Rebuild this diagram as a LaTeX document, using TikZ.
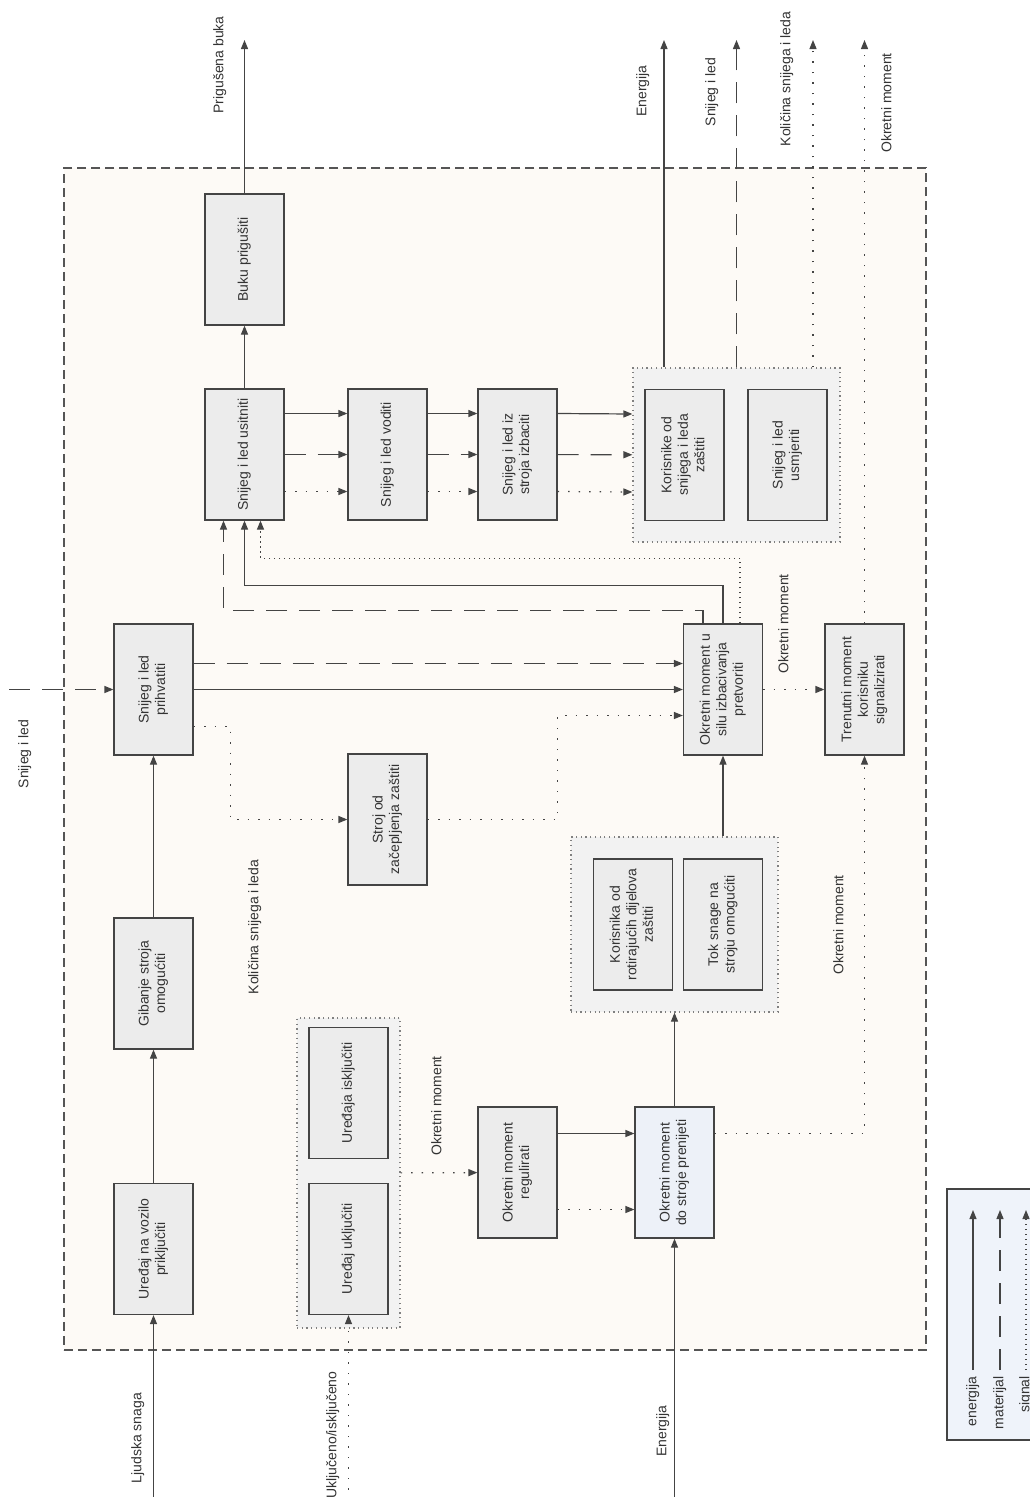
\documentclass[tikz,border=0pt]{standalone}
\usepackage{fontspec}
\setmainfont{Liberation Sans}
\usepackage{graphicx}
\usetikzlibrary{arrows.meta}
\definecolor{edge}{HTML}{444444}
\definecolor{txt}{HTML}{333333}
\definecolor{boxfill}{HTML}{ECECEC}
\definecolor{grpfill}{HTML}{F2F2F2}
\definecolor{cream}{HTML}{FDFAF6}
\definecolor{bluefill}{HTML}{EDF1F8}
\definecolor{legfill}{HTML}{EFF3FA}
\definecolor{framec}{HTML}{555555}
\newcommand{\vtxt}[1]{\rotatebox{90}{\begin{tabular}{@{}c@{}}#1\end{tabular}}}

\begin{document}
\begin{tikzpicture}[x=1pt, y=-1pt, >={Triangle[length=9pt,width=7pt]}, font=\fontsize{14}{16.5}\selectfont, text=txt]
  \tikzstyle{fn}=[rectangle, draw=edge, fill=boxfill, line width=1.2pt, minimum width=79pt, minimum height=131pt, inner sep=0pt]
  \tikzstyle{grp}=[rectangle, draw=gray, fill=grpfill, line width=1.2pt, dash pattern=on 1.2pt off 3.5pt, inner sep=0pt]
  \tikzstyle{frame}=[rectangle, draw=framec, fill=cream, line width=1.5pt, dash pattern=on 9pt off 5pt, inner sep=0pt]
  \tikzstyle{en}=[draw=edge, line width=1.2pt]
  \tikzstyle{mat}=[en, dash pattern=on 21pt off 12pt]
  \tikzstyle{sig}=[en, dash pattern=on 1.5pt off 9pt]
  \tikzstyle{sigd}=[en, dash pattern=on 1.5pt off 3.5pt]
  \tikzstyle{lbl}=[inner sep=0pt]
  \useasboundingbox (0,0) rectangle (1030,1497);
  \node[frame, minimum width=862pt, minimum height=1182pt] (sys) at (495,759) {};
  \node[grp, minimum width=207pt, minimum height=174pt] (zastita) at (736.5,455) {};
  \node[grp, minimum width=207pt, minimum height=175pt] (snaga) at (674.5,924.5) {};
  \node[grp, minimum width=103pt, minimum height=310pt] (sklopka) at (348.5,1173) {};
  \node[fn] (buku) at (244.5,259.5) {\vtxt{Buku prigušiti}};
  \node[fn] (usitniti) at (244.5,454.5) {\vtxt{Snijeg i led usitniti}};
  \node[fn] (voditi) at (387.5,454.5) {\vtxt{Snijeg i led voditi}};
  \node[fn] (izbaciti) at (517.5,454.5) {\vtxt{Snijeg i led iz\\stroja izbaciti}};
  \node[fn] (korisnike) at (684.5,455) {\vtxt{Korisnike od\\snijega i leda\\zaštiti}};
  \node[fn] (usmjeriti) at (787.5,455) {\vtxt{Snijeg i led\\usmjeriti}};
  \node[fn] (prihvatiti) at (153.5,689.5) {\vtxt{Snijeg i led\\prihvatiti}};
  \node[fn] (gibanje) at (153.5,983.5) {\vtxt{Gibanje stroja\\omogućiti}};
  \node[fn] (prikljuciti) at (153.5,1249) {\vtxt{Uređaj na vozilo\\priključiti}};
  \node[fn] (zacepljenje) at (387.5,819.5) {\vtxt{Stroj od\\začepljenja zaštiti}};
  \node[fn] (pretvoriti) at (723,689.5) {\vtxt{Okretni moment u\\silu izbacivanja\\pretvoriti}};
  \node[fn] (signalizirati) at (864.5,689.5) {\vtxt{Trenutni moment\\korisniku\\signalizirati}};
  \node[fn] (rotirajuci) at (633,924.5) {\vtxt{Korisnika od\\rotirajućih dijelova\\zaštiti}};
  \node[fn] (toksnage) at (723,924.5) {\vtxt{Tok snage na\\stroju omogućiti}};
  \node[fn] (iskljuciti) at (348.5,1093) {\vtxt{Uređaja isključiti}};
  \node[fn] (ukljuciti) at (348.5,1249) {\vtxt{Uređaj uključiti}};
  \node[fn] (regulirati) at (517.5,1172.5) {\vtxt{Okretni moment\\regulirati}};
  \node[fn, fill=bluefill] (prenijeti) at (674.5,1172.5) {\vtxt{Okretni moment\\do stroje prenijeti}};
  \coordinate (bukaout) at (244.5,40);
  \coordinate (enout) at (664,40);
  \coordinate (snout) at (736.5,40);
  \coordinate (kolout) at (813,40);
  \coordinate (momout) at (864.5,40);
  \coordinate (snin) at (9,689.5);
  \coordinate (ljudin) at (153.5,1500);
  \coordinate (ukin) at (348.5,1500);
  \coordinate (enin) at (674.5,1500);
  \node[lbl] (lbuka) at (220,65) {\vtxt{Prigušena buka}};
  \node[lbl] (lenout) at (643,91) {\vtxt{Energija}};
  \node[lbl] (lsnout) at (712,92) {\vtxt{Snijeg i led}};
  \node[lbl] (lkolout) at (787,79) {\vtxt{Količina snijega i leda}};
  \node[lbl] (lmomout) at (888,103) {\vtxt{Okretni moment}};
  \node[lbl] (lsnin) at (25,754) {\vtxt{Snijeg i led}};
  \node[lbl] (lkol) at (255,927) {\vtxt{Količina snijega i leda}};
  \node[lbl] (lmom1) at (785,624) {\vtxt{Okretni moment}};
  \node[lbl] (lmom2) at (840,925) {\vtxt{Okretni moment}};
  \node[lbl] (lmom3) at (438,1106) {\vtxt{Okretni moment}};
  \node[lbl] (lljud) at (138,1438) {\vtxt{Ljudska snaga}};
  \node[lbl] (luk) at (333,1435) {\vtxt{Uključeno/isključeno}};
  \node[lbl] (lenin) at (663,1431) {\vtxt{Energija}};
  \draw[en,->] (ljudin) -- (prikljuciti);
  \draw[en,->] (prikljuciti) -- (gibanje);
  \draw[en,->] (gibanje) -- (prihvatiti);
  \draw[mat,->] (snin) -- (prihvatiti);
  \draw[en,->] (prihvatiti) -- (pretvoriti);
  \draw[mat,->] ([yshift=26pt]prihvatiti.east) -- ([yshift=26pt]pretvoriti.west);
  \draw[sig,->] ([yshift=-37pt]prihvatiti.east) -- ++(37,0) |- (zacepljenje.west);
  \draw[sig,->] (zacepljenje.east) -- ++(130,0) |- ([yshift=-26pt]pretvoriti.west);
  \draw[en,->] (pretvoriti.north) -- ++(0,-38) -| (usitniti.south);
  \draw[mat,->] ([xshift=-20pt]pretvoriti.north) -- ++(0,-13) -| ([xshift=-21pt]usitniti.south);
  \draw[sigd,->] ([xshift=17pt]pretvoriti.north) -- ++(0,-65) -| ([xshift=16pt]usitniti.south);
  \draw[en,->] (usitniti) -- (buku);
  \draw[en,->] (buku) -- (bukaout);
  \draw[en,->] ([yshift=41pt]usitniti.east) -- ([yshift=41pt]voditi.west);
  \draw[mat,->] (usitniti) -- (voditi);
  \draw[sig,->] ([yshift=-37pt]usitniti.east) -- ([yshift=-37pt]voditi.west);
  \draw[en,->] ([yshift=41pt]voditi.east) -- ([yshift=41pt]izbaciti.west);
  \draw[mat,->] (voditi) -- (izbaciti);
  \draw[sig,->] ([yshift=-37pt]voditi.east) -- ([yshift=-37pt]izbaciti.west);
  \draw[en,->] ([yshift=41pt]izbaciti.east) -- ([yshift=41pt]zastita.west);
  \draw[mat,->] (izbaciti) -- (zastita);
  \draw[sig,->] ([yshift=-37pt]izbaciti.east) -- ([yshift=-37pt]zastita.west);
  \draw[en,->] (enout |- zastita.north) -- (enout);
  \draw[mat,->] (zastita) -- (snout);
  \draw[sig,->] (kolout |- zastita.north) -- (kolout);
  \draw[sig,->] (signalizirati) -- (momout);
  \draw[sig,->] (pretvoriti) -- (signalizirati);
  \draw[sig,->] ([yshift=39pt]prenijeti.east) -| (signalizirati.south);
  \draw[en,->] (prenijeti) -- (snaga);
  \draw[en,->] (pretvoriti.south |- snaga.north) -- (pretvoriti.south);
  \draw[en,->] (enin) -- (prenijeti);
  \draw[en,->] ([yshift=39pt]regulirati.east) -- ([yshift=39pt]prenijeti.west);
  \draw[sig,->] ([yshift=-37pt]regulirati.east) -- ([yshift=-37pt]prenijeti.west);
  \draw[sig,->] (sklopka) -- (regulirati);
  \draw[sig,->] (ukin) -- (ukljuciti.south);
  \node[rectangle, draw=edge, fill=legfill, line width=1.2pt, minimum width=100pt, minimum height=251pt] (legenda) at (997,1314.5) {};
  \coordinate (le1a) at (973,1370);
  \coordinate (le1b) at (973,1210);
  \coordinate (le2a) at (1000,1370);
  \coordinate (le2b) at (1000,1210);
  \coordinate (le3a) at (1026,1370);
  \coordinate (le3b) at (1026,1210);
  \draw[en,->] (le1a) -- (le1b);
  \draw[mat,->] (le2a) -- (le2b);
  \draw[sigd,->] (le3a) -- (le3b);
  \node[lbl, anchor=north] (lenergija) at (973,1376) {\vtxt{energija}};
  \node[lbl, anchor=north] (lmaterijal) at (1000,1376) {\vtxt{materijal}};
  \node[lbl, anchor=north] (lsignal) at (1026,1376) {\vtxt{signal}};
\end{tikzpicture}
\end{document}
